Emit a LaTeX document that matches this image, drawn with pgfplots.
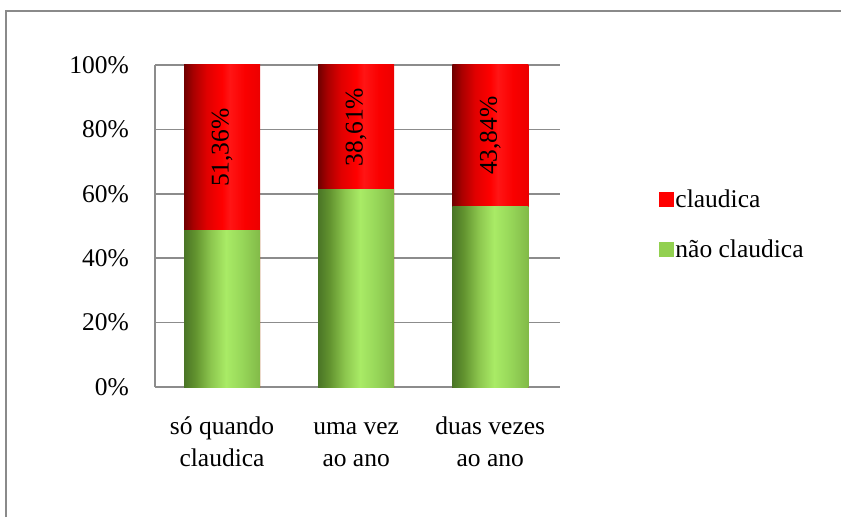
\documentclass[border=0pt]{standalone}
\usepackage{fontspec}
\setmainfont{Liberation Serif}
\usepackage{pgfplots}
\pgfplotsset{compat=1.18}
\pgfplotsset{/pgf/number format/assume math mode=true}
\definecolor{framegray}{HTML}{8A8A8A}
\definecolor{gridgray}{HTML}{8C8C8C}
\definecolor{legred}{HTML}{FF0000}
\definecolor{leggreen}{HTML}{92D050}
\definecolor{ra}{HTML}{700000}
\definecolor{rb}{HTML}{A80000}
\definecolor{rc}{HTML}{E00000}
\definecolor{rd}{HTML}{FF0000}
\definecolor{re}{HTML}{FF1515}
\definecolor{rf}{HTML}{FA0000}
\definecolor{rg}{HTML}{EC0000}
\definecolor{ga}{HTML}{4A7526}
\definecolor{gb}{HTML}{62932F}
\definecolor{gc}{HTML}{8CC64E}
\definecolor{gd}{HTML}{A9EB66}
\definecolor{ge}{HTML}{98D85A}
\definecolor{gf}{HTML}{82BA48}
% the middle 50bp of the shading are mapped onto each bar
\pgfdeclarehorizontalshading{redbar}{100bp}{color(0bp)=(ra); color(25bp)=(ra); color(31bp)=(rb); color(40bp)=(rc); color(50bp)=(rd); color(55bp)=(re); color(65bp)=(rf); color(75bp)=(rg); color(100bp)=(rg)}
\pgfdeclarehorizontalshading{greenbar}{100bp}{color(0bp)=(ga); color(25bp)=(ga); color(32.5bp)=(gb); color(42.5bp)=(gc); color(52.5bp)=(gd); color(62.5bp)=(ge); color(75bp)=(gf); color(100bp)=(gf)}
\begin{document}
\begin{tikzpicture}[font=\fontsize{25.5}{32}\selectfont]
\useasboundingbox (0,0) rectangle (841pt,517pt);
\draw[color=framegray, line width=1.5pt] (6pt,0pt) -- (6pt,506pt) -- (841pt,506pt);
\begin{axis}[
  at={(155pt,130pt)}, anchor=south west,
  scale only axis, width=405pt, height=322pt,
  ybar, bar width=76pt, bar shift=0pt,
  xmin=-0.5, xmax=2.52, ymin=0, ymax=100,
  ytick={0,20,40,60,80,100},
  yticklabel={\pgfmathprintnumber{\tick}\%},
  xtick={0,1,2},
  xticklabels={{\vphantom{d}só quando\\claudica},{\vphantom{d}uma vez\\ao ano},{\vphantom{d}duas vezes\\ao ano}},
  xticklabel style={align=center, anchor=north, inner sep=0pt, yshift=-30pt},
  yticklabel style={anchor=east, inner sep=0pt, xshift=-26pt},
  major tick length=0pt,
  tick style={draw=none},
  axis x line*=bottom, axis y line*=left,
  axis line style={-, gridgray, line width=1.5pt},
  ymajorgrids, grid style={gridgray, line width=1.5pt},
  legend style={at={(1.244,0.506)}, anchor=west, draw=none, fill=none, inner sep=0pt, row sep=27pt},
  legend cell align=left,
]
% claudica (red): drawn to 100%, the green segment covers its lower part
\addplot[forget plot, draw=none, shading=redbar] coordinates {(0,100)};
\addplot[forget plot, draw=none, shading=redbar] coordinates {(1,100)};
\addplot[forget plot, draw=none, shading=redbar] coordinates {(2,100)};
% não claudica (green)
\addplot[forget plot, draw=none, shading=greenbar] coordinates {(0,48.64)};
\addplot[forget plot, draw=none, shading=greenbar] coordinates {(1,61.39)};
\addplot[forget plot, draw=none, shading=greenbar] coordinates {(2,56.16)};
% labels of claudica, at the middle of the red segments
\addplot[forget plot, only marks, mark=none, point meta=explicit symbolic,
  nodes near coords,
  every node near coord/.append style={anchor=center, rotate=90, black, inner sep=0pt}]
  coordinates {(0,74.32)[51,36\%] (1,80.695)[38,61\%] (2,78.08)[43,84\%]};
\addlegendimage{legend image code/.code={\fill[legred] (0pt,-7pt) rectangle (14pt,7pt);}}
\addlegendentry{claudica}
\addlegendimage{legend image code/.code={\fill[leggreen] (0pt,-7pt) rectangle (14pt,7pt);}}
\addlegendentry{não claudica}
\end{axis}
\end{tikzpicture}
\end{document}
